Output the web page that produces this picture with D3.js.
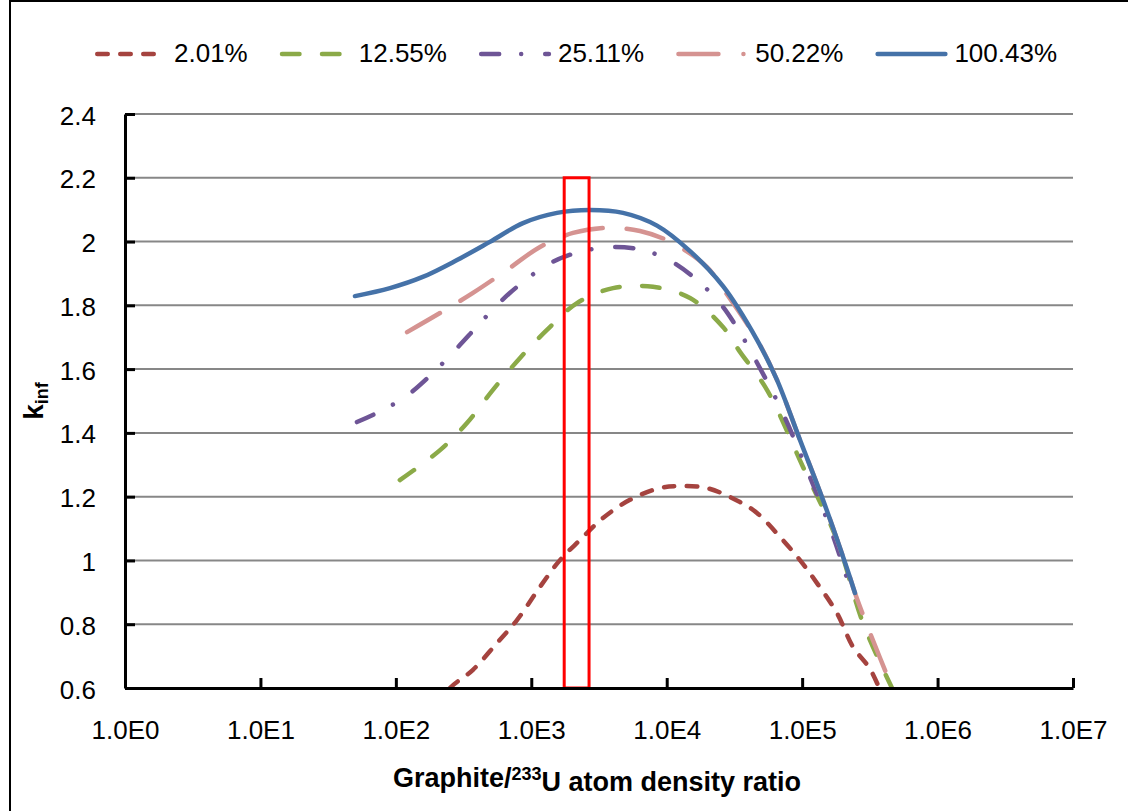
<!DOCTYPE html>
<html>
<head>
<meta charset="utf-8">
<script src="https://cdn.jsdelivr.net/npm/d3@7"></script>
<style>
	body { margin: 0; background: #fff; }
	svg text { font-family: 'Liberation Sans', Arial, sans-serif; fill: #000; }
</style>
</head>
<body>
<script>
'use strict';

// legend names of the series
var seriesNames = ['2.01%', '12.55%', '25.11%', '50.22%', '100.43%'];

// graphite/233U atom density ratio and k_inf per series
var ratio201 = [200, 251, 371, 558, 784, 1160, 1628, 2289, 3383, 5353, 8916, 12530, 19830, 34760, 46400, 68600, 96360, 128700, 180800, 237300, 317000, 375600],
	kinf201 = [0.54, 0.60, 0.657, 0.741, 0.813, 0.917, 1.001, 1.064, 1.133, 1.190, 1.227, 1.233, 1.227, 1.183, 1.149, 1.074, 1.001, 0.929, 0.835, 0.729, 0.66, 0.594];

var ratio1255 = [107, 212, 335, 521, 826, 1306, 2174, 4012, 7925, 14860, 26040, 34760, 54970, 101500, 180800, 281300, 460600],
	kinf1255 = [1.252, 1.346, 1.431, 1.535, 1.635, 1.723, 1.807, 1.854, 1.858, 1.823, 1.732, 1.654, 1.535, 1.293, 1.064, 0.804, 0.600];

var ratio2511 = [51.6, 80.4, 121, 191, 283, 404, 587, 868, 1374, 2250, 3811, 6568, 10570, 16740, 24720, 33050, 41230, 68600, 108600, 166100, 237300],
	kinf2511 = [1.434, 1.472, 1.517, 1.591, 1.666, 1.737, 1.810, 1.873, 1.932, 1.967, 1.983, 1.974, 1.940, 1.879, 1.807, 1.730, 1.660, 1.481, 1.284, 1.086, 0.885];

var ratio5022 = [121, 212, 371, 662, 1160, 2033, 3624, 6350, 11130, 19830, 26040, 46530, 65170, 96360, 142500, 214400, 245500, 317000, 468900],
	kinf5022 = [1.716, 1.776, 1.839, 1.911, 1.983, 2.027, 2.043, 2.033, 1.995, 1.920, 1.852, 1.691, 1.566, 1.378, 1.190, 0.975, 0.898, 0.773, 0.594];

var ratio10043 = [49.9, 90.5, 158, 283, 495, 868, 1549, 2714, 4757, 8476, 14860, 26040, 46530, 65170, 96360, 142500, 214400, 245500],
	kinf10043 = [1.829, 1.854, 1.889, 1.942, 1.999, 2.058, 2.090, 2.099, 2.090, 2.050, 1.970, 1.860, 1.691, 1.566, 1.378, 1.190, 0.975, 0.898];

// axis ticks
var xTickValues = [1, 1e1, 1e2, 1e3, 1e4, 1e5, 1e6, 1e7],
	yTickValues = [0.6, 0.8, 1, 1.2, 1.4, 1.6, 1.8, 2, 2.2, 2.4];

// the marked ratio window (red box)
var boxRatio = [1750, 2670],
	boxKinf = [0.6, 2.2];

// styles
var colors = ['#A5433F', '#8BAA48', '#6E5596', '#D59391', '#4572A8'],
	dashes = ['10.5,12.5', '17.5,22.5', '18,22,0.01,24', '38,24', null],
	legendDashes = ['10.5,12.5', '17.5,22.5', '18,22,0.01,24', '40,25,0.01,50', null];

var margin = {top: 114, right: 55, bottom: 123, left: 125},
	width = 1128 - margin.left - margin.right,
	height = 811 - margin.top - margin.bottom;

var x = d3.scaleLog()
		.domain([1, 1e7])
		.range([0, width]),

	y = d3.scaleLinear()
		.domain([0.6, 2.4])
		.range([height, 0]),

	line = d3.line().curve(d3.curveCatmullRom.alpha(0.5))
		.x(function(d) { return x(d[0]); })
		.y(function(d) { return y(d[1]); });

var svg = d3.select('body').append('svg')
		.attr('width', 1128)
		.attr('height', 811);

// chart frame, only the left and top edges are in view
svg.append('path')
	.attr('d', 'M10,811V1H1128')
	.attr('fill', 'none')
	.attr('stroke', '#000')
	.attr('stroke-width', 2);

var g = svg.append('g')
	.attr('transform', 'translate(' + margin.left + ',' + margin.top + ')');

g.append('clipPath')
		.attr('id', 'plot-clip')
	.append('rect')
		.attr('width', width)
		.attr('height', height);

makeGrid();
makeLines();
makeBox();
makeAxis();
drawLegend();

/*
* Horizontal gray gridlines.
*/
function makeGrid() {
	g.selectAll('.grid')
		.data(yTickValues.slice(1))
		.enter().append('line')
			.attr('class', 'grid')
			.attr('x1', 0)
			.attr('x2', width)
			.attr('y1', function(d) { return y(d); })
			.attr('y2', function(d) { return y(d); })
			.attr('stroke', '#878787')
			.attr('stroke-width', 2);
}

/*
* The five curves, blue one last so it sits on top.
*/
function makeLines() {
	var sets = [
		d3.zip(ratio201, kinf201),
		d3.zip(ratio1255, kinf1255),
		d3.zip(ratio2511, kinf2511),
		d3.zip(ratio5022, kinf5022),
		d3.zip(ratio10043, kinf10043)
	];

	var lines = g.append('g')
		.attr('clip-path', 'url(#plot-clip)');

	sets.forEach(function(set, i) {
		lines.append('path')
			.datum(set)
			.attr('fill', 'none')
			.attr('stroke', colors[i])
			.attr('stroke-width', 4.5)
			.attr('stroke-linecap', 'round')
			.attr('stroke-linejoin', 'round')
			.attr('stroke-dasharray', dashes[i])
			.attr('d', line);
	});
}

/*
* Red box around the ratio window.
*/
function makeBox() {
	g.append('rect')
		.attr('x', x(boxRatio[0]))
		.attr('y', y(boxKinf[1]))
		.attr('width', x(boxRatio[1]) - x(boxRatio[0]))
		.attr('height', y(boxKinf[0]) - y(boxKinf[1]))
		.attr('fill', 'none')
		.attr('stroke', '#FF0000')
		.attr('stroke-width', 3);
}

/*
* Axes with inward ticks, labels and titles.
*/
function makeAxis() {
	var xAxis = g.append('g')
		.attr('transform', 'translate(0,' + height + ')')
		.call(d3.axisBottom(x)
			.tickValues(xTickValues)
			.tickSizeInner(-10)
			.tickSizeOuter(0)
			.tickFormat(function(d) { return '1.0E' + Math.round(Math.log10(d)); }));

	var yAxis = g.append('g')
		.call(d3.axisLeft(y)
			.tickValues(yTickValues)
			.tickSizeInner(-10)
			.tickSizeOuter(0)
			.tickFormat(d3.format('')));

	[xAxis, yAxis].forEach(function(axis) {
		axis.attr('font-family', null).attr('font-size', null);
		axis.select('.domain')
			.attr('stroke', '#000')
			.attr('stroke-width', 3);
		axis.selectAll('.tick line')
			.attr('stroke', '#000')
			.attr('stroke-width', 3);
		axis.selectAll('.tick text')
			.style('font-size', '26px');
	});

	xAxis.selectAll('.tick text')
		.attr('y', 51)
		.attr('dy', null);

	yAxis.selectAll('.tick text')
		.attr('x', -29)
		.attr('y', 10)
		.attr('dy', null);

	// x title with superscript mass number
	var xTitle = svg.append('text')
		.attr('x', margin.left + width / 2 - 2)
		.attr('y', 787)
		.attr('text-anchor', 'middle')
		.style('font-size', '27px')
		.style('font-weight', 'bold');
	xTitle.append('tspan').text('Graphite/');
	xTitle.append('tspan')
		.attr('dy', '-0.4em')
		.style('font-size', '18px')
		.text('233');
	xTitle.append('tspan')
		.attr('dy', '0.4em')
		.text('U atom density ratio');

	// y title k_inf
	var yTitle = svg.append('text')
		.attr('transform', 'translate(43,' + (margin.top + height / 2) + ') rotate(-90)')
		.attr('text-anchor', 'middle')
		.style('font-size', '28px')
		.style('font-weight', 'bold');
	yTitle.append('tspan').text('k');
	yTitle.append('tspan')
		.attr('dy', '0.25em')
		.style('font-size', '18px')
		.text('inf');
}

/*
* Legend row along the top.
*/
function drawLegend() {
	var legend = svg.append('g')
		.attr('transform', 'translate(95,54)');

	var xPos = 0;
	seriesNames.forEach(function(name, i) {
		var item = legend.append('g')
			.attr('transform', 'translate(' + xPos + ',0)');

		item.append('line')
			.attr('x1', 2.25)
			.attr('x2', i == 0 ? 62 : 70)
			.attr('stroke', colors[i])
			.attr('stroke-width', 4.5)
			.attr('stroke-linecap', 'round')
			.attr('stroke-dasharray', legendDashes[i]);

		var label = item.append('text')
			.attr('x', 79)
			.attr('y', 8)
			.style('font-size', '26px')
			.text(name);

		xPos += 79 + label.node().getComputedTextLength() + 32;
	});
}
</script>
</body>
</html>
